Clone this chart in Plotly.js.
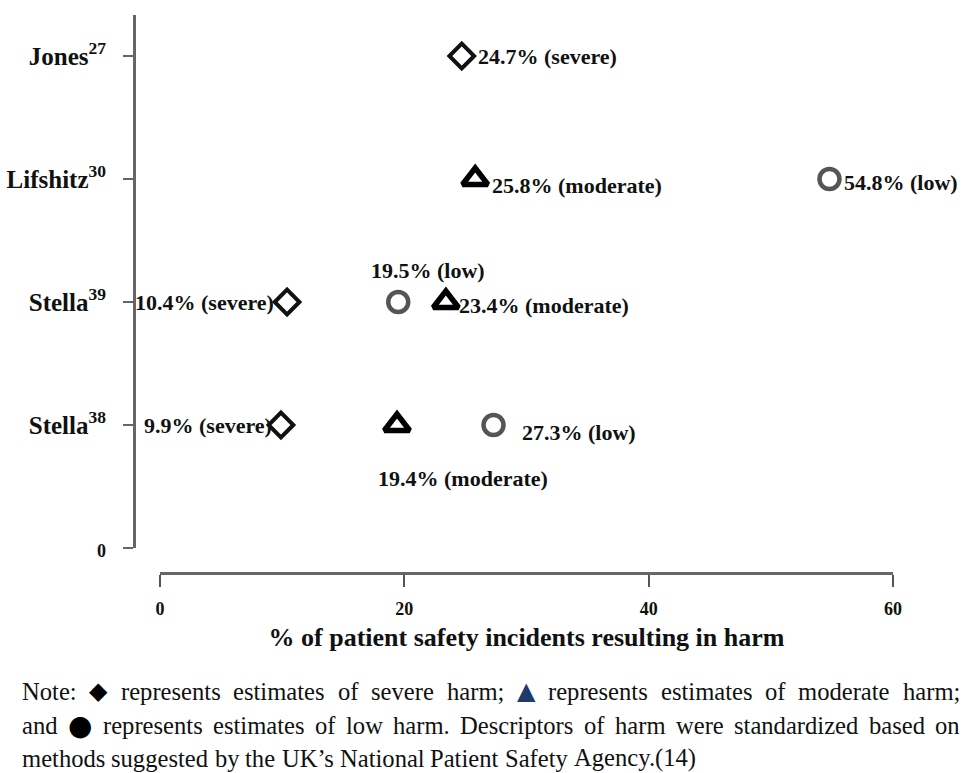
<!DOCTYPE html>
<html>
<head>
<meta charset="utf-8">
<script src="https://cdn.plot.ly/plotly-3.0.1.min.js"></script>
<style>html,body{margin:0;padding:0;background:#fff;}#chart{width:966px;height:773px;}</style>
</head>
<body>
<div id="chart"></div>
<script>
// ---- data ----
const studies = ['Stella<sup>38</sup>', 'Stella<sup>39</sup>', 'Lifshitz<sup>30</sup>', 'Jones<sup>27</sup>'];
const studyPos = [1, 2, 3, 4];
const severe = [9.9, 10.4, null, 24.7];
const moderate = [19.4, 23.4, 25.8, null];
const low = [27.3, 19.5, 54.8, null];
const xTicks = [0, 20, 40, 60];
const harmNames = ['severe', 'moderate', 'low'];
const xTitle = '% of patient safety incidents resulting in harm';
const SYM_SEVERE = '\u25C6', SYM_MOD = '\u25B2', SYM_LOW = '\u25CF';
const noteLines = [
  ['Note:', SYM_SEVERE, 'represents estimates of severe harm;', SYM_MOD, 'represents estimates of moderate harm;'],
  ['and', SYM_LOW, 'represents estimates of low harm. Descriptors of harm were standardized based on'],
  ['methods suggested by the UK\u2019s National Patient Safety Agency.(14)']
];

// ---- layout helpers (pixels) ----
const W = 966, H = 773;
const M = {l: 134, r: 73, t: 15, b: 200};
const PW = W - M.l - M.r, PH = H - M.t - M.b;
const px2paperY = y => (H - M.b - y) / PH;
const px2paperX = x => (x - M.l) / PW;

const SERIF = 'Liberation Serif, Times New Roman, serif';
const NOTE_SIZE = 24.6;
const symStyle = {};
symStyle[SYM_SEVERE] = {size: 24, color: '#000'};
symStyle[SYM_MOD] = {size: 24, color: '#1f3a6e'};
symStyle[SYM_LOW] = {size: 28, color: '#000'};

// label placement per series, per study (style only)
const place = {
  severe:   [{a:'right', dx:-7, dy:0}, {a:'right', dx:-11, dy:0}, null, {a:'left', dx:14, dy:0}],
  moderate: [{a:'center', dx:66, dy:-53}, {a:'left', dx:11, dy:-3}, {a:'left', dx:15, dy:-6}, null],
  low:      [{a:'left', dx:26, dy:-7}, {a:'center', dx:30, dy:32}, {a:'left', dx:13, dy:-3}, null]
};
const noteY = [691, 725, 758];
const noteLeft = 22, noteRight = 960;
const noteJustify = [true, true, false];

const series = {severe, moderate, low};
const markerStyle = {
  severe:   {symbol: 'diamond-open', size: 19, color: '#111', line: {width: 4, color: '#111'}},
  moderate: {symbol: 'triangle-up-open', size: 22, color: '#000', line: {width: 5.5, color: '#000'}},
  low:      {symbol: 'circle-open', size: 20, color: '#555', line: {width: 4.5, color: '#555'}}
};

const traces = harmNames.map(h => {
  const xs = [], ys = [];
  series[h].forEach((v, i) => { if (v !== null) { xs.push(v); ys.push(studyPos[i]); } });
  return {
    type: 'scatter', mode: 'markers', x: xs, y: ys, name: h,
    marker: markerStyle[h], hoverinfo: 'x+y', showlegend: false,
    cliponaxis: false
  };
});

const annotations = [];
harmNames.forEach(h => {
  series[h].forEach((v, i) => {
    if (v === null) return;
    const p = place[h][i];
    annotations.push({
      x: v, y: studyPos[i], xref: 'x', yref: 'y',
      text: v.toFixed(1) + '% (' + h + ')',
      showarrow: false, xanchor: p.a, yanchor: 'middle',
      xshift: p.dx, yshift: p.dy,
      font: {family: SERIF, size: 22, color: '#111', weight: 'bold'}
    });
  });
});

// justified note text: measure words with canvas, then place each word
const ctx = document.createElement('canvas').getContext('2d');
function measure(word) {
  if (symStyle[word]) { ctx.font = symStyle[word].size + 'px "DejaVu Sans"'; }
  else { ctx.font = NOTE_SIZE + 'px "Liberation Serif"'; }
  return ctx.measureText(word).width;
}
noteLines.forEach((line, k) => {
  const words = [];
  line.forEach(seg => { if (symStyle[seg]) words.push(seg); else seg.split(' ').forEach(w => words.push(w)); });
  const widths = words.map(measure);
  const total = widths.reduce((a, b) => a + b, 0);
  const spaceW = measure(' ');
  const gap = noteJustify[k] ? (noteRight - noteLeft - total) / (words.length - 1) : spaceW;
  let x = noteLeft;
  words.forEach((w, j) => {
    const st = symStyle[w];
    annotations.push({
      x: px2paperX(x), y: px2paperY(noteY[k]), xref: 'paper', yref: 'paper',
      text: w, showarrow: false, xanchor: 'left', yanchor: 'middle', align: 'left',
      borderpad: 0, borderwidth: 0,
      font: st ? {family: 'DejaVu Sans', size: st.size, color: st.color}
               : {family: SERIF, size: NOTE_SIZE, color: '#111'}
    });
    x += widths[j] + gap;
  });
});

const layout = {
  width: W, height: H,
  margin: M,
  paper_bgcolor: '#fff', plot_bgcolor: '#fff',
  showlegend: false,
  xaxis: {
    domain: [px2paperX(160), 1],
    range: [0, 60], anchor: 'free', position: 0,
    tickvals: xTicks, ticktext: xTicks.map(String),
    ticks: 'outside', ticklen: 12, tickwidth: 2, tickcolor: '#555',
    showline: true, linewidth: 3, linecolor: '#666',
    showgrid: false, zeroline: false,
    tickfont: {family: SERIF, size: 18, color: '#111', weight: 'bold'},
    ticklabelstandoff: 6,
    title: {text: xTitle, font: {family: SERIF, size: 26, color: '#111', weight: 'bold'}, standoff: 10}
  },
  yaxis: {
    domain: [1 - (548 - M.t) / PH, 1],
    range: [0, (548 - 15) / 123], anchor: 'free', position: 0,
    tickvals: [0].concat(studyPos),
    ticktext: ['<span style="font-size:18px">0</span>'].concat(studies),
    ticks: 'outside', ticklen: 10, tickwidth: 2, tickcolor: '#666',
    showline: true, linewidth: 3, linecolor: '#666',
    showgrid: false, zeroline: false,
    ticklabelstandoff: 12,
    tickfont: {family: SERIF, size: 25, color: '#111', weight: 'bold'}
  },
  annotations: annotations
};

Plotly.newPlot('chart', traces, layout, {displayModeBar: false, staticPlot: true});
</script>
</body>
</html>
